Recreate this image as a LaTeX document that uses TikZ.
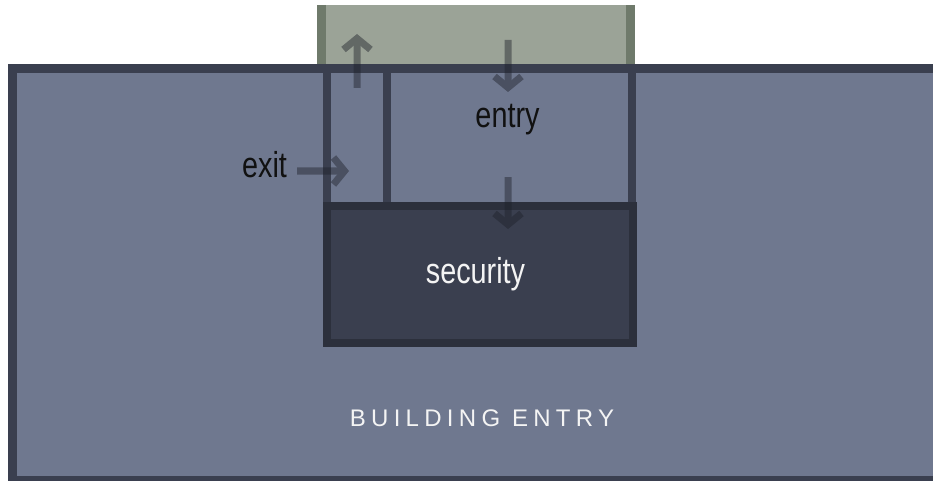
\documentclass[tikz,border=0pt]{standalone}
\usepackage{fontspec}
\setmainfont{Liberation Sans}
\newfontfamily\narrowfont[FakeStretch=0.8]{Liberation Sans}
\newfontfamily\capsfont[LetterSpace=22]{Liberation Sans}
\usetikzlibrary{arrows.meta}
\definecolor{hallfill}{HTML}{6F788F}
\definecolor{hallline}{HTML}{3A3F4F}
\definecolor{secfill}{HTML}{3A3F4F}
\definecolor{secline}{HTML}{2C303C}
\definecolor{portfill}{HTML}{9BA397}
\definecolor{portline}{HTML}{6F7A6B}
\definecolor{arrowc}{HTML}{1E212A}
\definecolor{lighttext}{HTML}{F4F4F4}
\definecolor{darktext}{HTML}{111111}
\tikzset{
  hallbox/.style={draw=hallline, fill=hallfill, line width=9pt},
  wall/.style={draw=hallline, line width=8.5pt},
  portwall/.style={draw=portline, line width=8.5pt},
  secbox/.style={draw=secline, fill=secfill, line width=8pt},
  flow/.style={draw=arrowc, line width=7pt, -{Straight Barb[length=11pt,width=27pt]}},
  biglabel/.style={anchor=base, inner sep=0pt, font=\narrowfont\fontsize{36}{36}\selectfont},
  capslabel/.style={anchor=base, inner sep=0pt, text=lighttext, font=\capsfont\fontsize{24}{24}\selectfont}
}
\begin{document}
\begin{tikzpicture}[x=1pt,y=-1pt]
\useasboundingbox (0,0) rectangle (933,481);
% outside porch
\fill[portfill] (317,5) rectangle (635,64);
\draw[portwall] (321.25,5) -- (321.25,64);
\draw[portwall] (630.5,5) -- (630.5,64);
% building
\draw[hallbox] (12.5,68.5) rectangle (960,480.5);
% entry walls
\draw[wall] (327,68.5) -- (327,206);
\draw[wall] (387,73) -- (387,206);
\draw[wall] (632,68.5) -- (632,206);
% security
\draw[secbox] (327,206) rectangle (633,343);
% labels
\node[biglabel, text=darktext] (entrylbl) at (507.5,128) {entry};
\node[biglabel, text=lighttext] (seclbl) at (475.5,283) {security};
\node[biglabel, text=darktext] (exitlbl) at (264.5,178) {exit};
\node[capslabel] (bldlbl) at (482,426) {BUILDING ENTRY};
% arrows
\coordinate (upS) at (357,88);
\coordinate (upE) at (357,34);
\coordinate (dnAS) at (508,40);
\coordinate (dnAE) at (508,92);
\coordinate (dnBS) at (508,177);
\coordinate (dnBE) at (508,229);
\coordinate (exS) at (297,171);
\coordinate (exE) at (349,171);
\begin{scope}[transparency group, opacity=0.45]
\draw[flow] (upS) -- (upE);
\draw[flow] (dnAS) -- (dnAE);
\draw[flow] (dnBS) -- (dnBE);
\draw[flow] (exS) -- (exE);
\end{scope}
\end{tikzpicture}
\end{document}
